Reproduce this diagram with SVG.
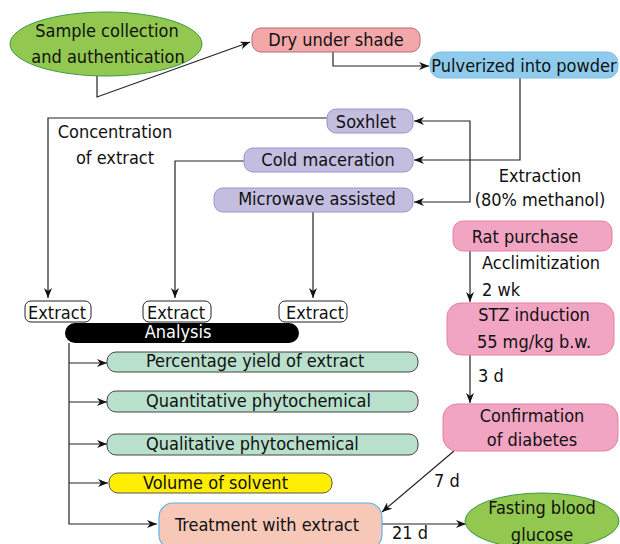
<svg xmlns="http://www.w3.org/2000/svg" width="620" height="544" viewBox="0 0 620 544">
<defs>
<marker id="arr" viewBox="0 0 10 8" refX="10" refY="4" markerWidth="10" markerHeight="8" markerUnits="userSpaceOnUse" orient="auto">
<path d="M0,0 L10,4 L0,8 L3,4 z" fill="#111"/>
</marker>
<style>
text{font-family:"DejaVu Sans Condensed","DejaVu Sans",sans-serif;font-stretch:condensed;font-size:18px;fill:#111}
.c{text-anchor:middle}
.ln{fill:none;stroke:#222;stroke-width:1.2}
.ar{marker-end:url(#arr)}
.green{fill:#92c850;stroke:#3c9a44;stroke-width:1}
.dry{fill:#f2a7a9;stroke:#b86a6a;stroke-width:1}
.blue{fill:#8ecbec;stroke:#7cc0e8;stroke-width:1}
.lav{fill:#c3bde0;stroke:#9b94cc;stroke-width:1}
.pink{fill:#f2a4c3;stroke:#e8809e;stroke-width:1}
.mint{fill:#b8e0cc;stroke:#444;stroke-width:1}
.yel{fill:#ffee00;stroke:#555;stroke-width:1}
.ext{fill:#fff;stroke:#222;stroke-width:1}
.trt{fill:#f7c7b8;stroke:#5ab4e6;stroke-width:1.2}
</style>
</defs>
<rect width="620" height="544" fill="#fff"/>

<g id="connectors">
<polyline class="ln ar" points="97,76 97,97 250,42"/>
<polyline class="ln ar" points="333,52 333,66 429,66"/>
<polyline class="ln ar" points="520,78 520,160 414,160"/>
<polyline class="ln ar" points="470,160 470,121 414,121"/>
<polyline class="ln ar" points="470,160 470,202 414,202"/>
<polyline class="ln ar" points="327,118 48,118 48,298"/>
<polyline class="ln ar" points="244,161 175,161 175,298"/>
<polyline class="ln ar" points="313,212 313,298"/>
<polyline class="ln ar" points="69,343 69,524 157,524"/>
<polyline class="ln ar" points="69,363 107,363"/>
<polyline class="ln ar" points="69,402 107,402"/>
<polyline class="ln ar" points="69,444 107,444"/>
<polyline class="ln ar" points="69,483 108,483"/>
<polyline class="ln ar" points="470,251 470,302"/>
<polyline class="ln ar" points="470,355 470,403"/>
<polyline class="ln ar" points="454,451 382,512"/>
<polyline class="ln ar" points="382,524 466,524"/>
<text x="115" y="138" class="c">Concentration</text>
<text x="115" y="164" class="c">of extract</text>
<text x="540" y="182" class="c">Extraction</text>
<text x="540" y="206" class="c">(80% methanol)</text>
<text x="482" y="269">Acclimitization</text>
<text x="482" y="296">2 wk</text>
<text x="478" y="382">3 d</text>
<text x="434" y="487">7 d</text>
<text x="392" y="539">21 d</text>
</g>

<g id="sample">
<ellipse cx="106" cy="44" rx="96" ry="32" class="green"/>
<text x="107" y="37" class="c">Sample collection</text>
<text x="108" y="63" class="c">and authentication</text>
</g>
<g id="dry">
<rect x="252" y="28" width="168" height="24" rx="9" class="dry"/>
<text x="336" y="46" class="c">Dry under shade</text>
</g>
<g id="pulverized">
<rect x="430" y="52" width="188" height="26" rx="11" class="blue"/>
<text x="524" y="72" class="c">Pulverized into powder</text>
</g>
<g id="soxhlet">
<rect x="327" y="109" width="86" height="24" rx="9" class="lav"/>
<text x="366" y="128" class="c">Soxhlet</text>
</g>
<g id="cold">
<rect x="244" y="148" width="169" height="24" rx="9" class="lav"/>
<text x="328" y="166" class="c">Cold maceration</text>
</g>
<g id="microwave">
<rect x="214" y="188" width="199" height="24" rx="9" class="lav"/>
<text x="317" y="205" class="c">Microwave assisted</text>
</g>
<g id="extract1">
<rect x="25" y="301" width="66" height="21" rx="6" class="ext"/>
<text x="57" y="319" class="c">Extract</text>
</g>
<g id="extract2">
<rect x="143" y="301" width="68" height="21" rx="6" class="ext"/>
<text x="176" y="319" class="c">Extract</text>
</g>
<g id="extract3">
<rect x="279" y="301" width="68" height="21" rx="6" class="ext"/>
<text x="315" y="319" class="c">Extract</text>
</g>
<g id="analysis">
<rect x="65" y="323" width="234" height="20" rx="10" fill="#000"/>
<text x="178" y="338" class="c" style="fill:#fff">Analysis</text>
</g>
<g id="percentage">
<rect x="107" y="352" width="311" height="20" rx="9" class="mint"/>
<text x="146" y="367">Percentage yield of extract</text>
</g>
<g id="quantitative">
<rect x="107" y="391" width="311" height="21" rx="9" class="mint"/>
<text x="146" y="407">Quantitative phytochemical</text>
</g>
<g id="qualitative">
<rect x="107" y="434" width="311" height="21" rx="9" class="mint"/>
<text x="146" y="450">Qualitative phytochemical</text>
</g>
<g id="volume">
<rect x="109" y="473" width="223" height="20" rx="9" class="yel"/>
<text x="143" y="489">Volume of solvent</text>
</g>
<g id="treatment">
<rect x="159" y="503" width="223" height="46" rx="14" class="trt"/>
<text x="267" y="531" class="c">Treatment with extract</text>
</g>
<g id="rat">
<rect x="453" y="221" width="159" height="30" rx="10" class="pink"/>
<text x="525" y="243" class="c">Rat purchase</text>
</g>
<g id="stz">
<rect x="447" y="303" width="167" height="52" rx="14" class="pink"/>
<text x="534" y="321" class="c">STZ induction</text>
<text x="534" y="348" class="c">55 mg/kg b.w.</text>
</g>
<g id="confirmation">
<rect x="443" y="404" width="175" height="47" rx="14" class="pink"/>
<text x="532" y="422" class="c">Confirmation</text>
<text x="532" y="446" class="c">of diabetes</text>
</g>
<g id="fasting">
<ellipse cx="542" cy="521" rx="77" ry="28" class="green"/>
<text x="542" y="514" class="c">Fasting blood</text>
<text x="542" y="541" class="c">glucose</text>
</g>
</svg>
